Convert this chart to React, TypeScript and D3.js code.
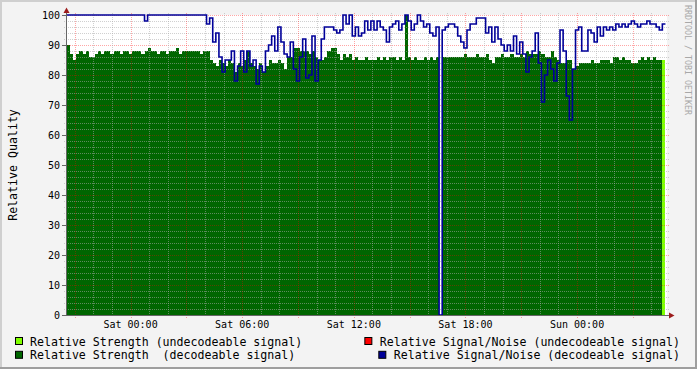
import { useEffect, useRef } from "react";
import * as d3 from "d3";

const width = 697;
const height = 369;

// 10 minute samples, first one at Fri 20:35
const start = new Date(2024, 0, 5, 20, 35);
const stepMinutes = 10;
const spanHours = 32.25;

const strength = [
  90, 87, 85, 87, 88, 87, 88, 86, 86, 87,
  88, 87, 88, 88, 87, 88, 88, 87, 88, 88,
  87, 88, 88, 88, 87, 88, 89, 88, 88, 87,
  88, 88, 87, 88, 88, 89, 87, 88, 88, 88,
  88, 88, 88, 87, 88, 88, 85, 84, 83, 85,
  84, 83, 85, 84, 81, 84, 83, 85, 88, 84,
  83, 82, 84, 81, 83, 85, 84, 84, 85, 84,
  82, 86, 86, 89, 89, 88, 88, 88, 87, 88,
  86, 85, 85, 86, 88, 89, 89, 87, 85, 87,
  86, 87, 85, 86, 85, 85, 86, 85, 85, 85,
  86, 85, 86, 85, 86, 86, 85, 86, 85, 100,
  86, 85, 86, 85, 85, 86, 85, 86, 85, 86,
  0, 86, 86, 86, 86, 86, 86, 86, 87, 86,
  86, 86, 87, 86, 86, 87, 85, 84, 86, 86,
  87, 86, 86, 87, 86, 86, 87, 86, 88, 87,
  87, 87, 88, 87, 86, 86, 88, 86, 85, 84,
  84, 85, 85, 82, 83, 84, 84, 84, 84, 85,
  84, 84, 85, 85, 85, 84, 86, 86, 85, 86,
  85, 85, 84, 84, 85, 86, 85, 86, 85, 86,
  85, 85, 85,
];

// samples where the signal could not be decoded
const undecodeable = [192];

const snr = [
  100, 100, 100, 100, 100, 100, 100, 100, 100, 100,
  100, 100, 100, 100, 100, 100, 100, 100, 100, 100,
  100, 100, 100, 100, 100, 98, 100, 100, 100, 100,
  100, 100, 100, 100, 100, 100, 100, 100, 100, 100,
  100, 100, 100, 100, 100, 97, 99, 91, 94, 86,
  81, 85, 85, 88, 78, 83, 88, 81, 88, 83,
  85, 77, 83, 81, 88, 90, 93, 88, 96, 91,
  87, 86, 91, 82, 78, 86, 92, 79, 80, 93,
  78, 85, 92, 96, 96, 96, 95, 94, 95, 100,
  97, 100, 93, 96, 93, 94, 98, 95, 98, 95,
  98, 96, 95, 91, 96, 97, 98, 95, 97, 100,
  98, 95, 97, 100, 98, 96, 97, 94, 93, 96,
  0, 95, 96, 97, 97, 96, 93, 91, 89, 95,
  97, 97, 99, 99, 99, 94, 96, 91, 96, 92,
  90, 88, 90, 88, 93, 87, 91, 87, 81, 86,
  88, 94, 84, 71, 80, 85, 82, 78, 84, 95,
  88, 73, 65, 82, 95, 96, 88, 88, 95, 94,
  91, 96, 93, 96, 95, 96, 95, 97, 96, 97,
  96, 97, 98, 97, 96, 97, 97, 98, 97, 97,
  96, 95, 97,
];

const legendLeft = [
  { label: "Relative Strength (undecodeable signal)", color: "#80ff00" },
  { label: "Relative Strength  (decodeable signal)", color: "#006600" },
];
const legendRight = [
  { label: "Relative Signal/Noise (undecodeable signal)", color: "#ff0000" },
  { label: "Relative Signal/Noise (decodeable signal)", color: "#000099" },
];

const font = "DejaVu Sans Mono";

const timeAt = (i) => new Date(start.getTime() + i * stepMinutes * 60000);

// turns samples into step points, null breaks the path
const steps = (values, keep) => {
  const pts = [];
  values.forEach((v, i) => {
    if (keep(i)) {
      pts.push({ t: timeAt(i), v });
      pts.push({ t: timeAt(i + 1), v });
    } else {
      pts.push({ t: timeAt(i), v: null });
    }
  });
  return pts;
};

const App = () => {
  const ref = useRef(null);

  useEffect(() => {
    const svg = d3.select(ref.current);
    svg.selectAll("*").remove();

    const x = d3
      .scaleTime()
      .domain([start, new Date(start.getTime() + spanHours * 3600000)])
      .range([67, 667]);
    const y = d3.scaleLinear().domain([0, 100]).range([315, 15]);

    // background + frame
    svg.append("rect").attr("width", width).attr("height", height).attr("fill", "#f3f3f3");
    svg.append("rect").attr("x", 0).attr("y", 0).attr("width", width).attr("height", 2).attr("fill", "#cfcfcf");
    svg.append("rect").attr("x", 0).attr("y", 0).attr("width", 2).attr("height", height).attr("fill", "#cfcfcf");
    svg.append("rect").attr("x", width - 2).attr("y", 0).attr("width", 2).attr("height", height).attr("fill", "#9e9e9e");
    svg.append("rect").attr("x", 0).attr("y", height - 2).attr("width", width).attr("height", 2).attr("fill", "#9e9e9e");

    svg
      .append("rect")
      .attr("x", x.range()[0])
      .attr("y", y(100))
      .attr("width", x.range()[1] - x.range()[0])
      .attr("height", y(0) - y(100))
      .attr("fill", "#ffffff");

    const area = d3
      .area()
      .defined((d) => d.v != null)
      .x((d) => x(d.t))
      .y0(y(0))
      .y1((d) => y(d.v));

    const isBad = (i) => undecodeable.includes(i);

    svg
      .append("path")
      .attr("d", area(steps(strength, (i) => !isBad(i))))
      .attr("fill", "#006600")
      .attr("shape-rendering", "crispEdges");
    svg
      .append("path")
      .attr("d", area(steps(strength, isBad)))
      .attr("fill", "#80ff00")
      .attr("shape-rendering", "crispEdges");

    // grid on top of the area
    const grid = svg.append("g").attr("stroke-dasharray", "1,1").attr("stroke-width", 1);
    d3.range(0, 101, 2).forEach((v) => {
      const major = v % 10 === 0;
      grid
        .append("line")
        .attr("x1", 64)
        .attr("x2", 669)
        .attr("y1", Math.round(y(v)) + 0.5)
        .attr("y2", Math.round(y(v)) + 0.5)
        .attr("stroke", major ? "rgba(255,0,0,0.35)" : "rgba(170,170,170,0.55)");
    });
    const hours = x.ticks(d3.timeHour.every(1));
    hours.forEach((t) => {
      const major = t.getHours() % 3 === 0;
      const px = Math.round(x(t)) + 0.5;
      grid
        .append("line")
        .attr("x1", px)
        .attr("x2", px)
        .attr("y1", 13)
        .attr("y2", major ? 318 : 317)
        .attr("stroke", major ? "rgba(255,0,0,0.35)" : "rgba(170,170,170,0.55)");
    });

    const line = d3
      .line()
      .defined((d) => d.v != null)
      .x((d) => x(d.t))
      .y((d) => y(d.v));
    svg
      .append("path")
      .attr("d", line(steps(snr, () => true)))
      .attr("fill", "none")
      .attr("stroke", "#000099")
      .attr("stroke-width", 1.6);

    // axes
    svg
      .append("line")
      .attr("x1", 66.5).attr("x2", 66.5)
      .attr("y1", 316).attr("y2", 11)
      .attr("stroke", "#666");
    svg
      .append("line")
      .attr("x1", 63).attr("x2", 670)
      .attr("y1", 315.5).attr("y2", 315.5)
      .attr("stroke", "#666");
    svg
      .append("path")
      .attr("d", "M66.5,7.5L63.5,13L69.5,13Z")
      .attr("fill", "#9c1c1c");
    svg
      .append("path")
      .attr("d", "M674.5,315.5L669,312.5L669,318.5Z")
      .attr("fill", "#9c1c1c");

    // y labels
    const yTicks = d3.range(0, 101, 10);
    yTicks.forEach((v) => {
      svg
        .append("line")
        .attr("x1", 62).attr("x2", 66)
        .attr("y1", Math.round(y(v)) + 0.5).attr("y2", Math.round(y(v)) + 0.5)
        .attr("stroke", "#666");
      svg
        .append("text")
        .attr("x", 60)
        .attr("y", y(v) + 3.8)
        .attr("text-anchor", "end")
        .attr("font-family", font)
        .attr("font-size", 10)
        .attr("fill", "#000")
        .text(v);
    });

    // x labels every 6 hours
    const fmt = d3.timeFormat("%a %H:%M");
    x.ticks(d3.timeHour.every(6)).forEach((t) => {
      svg
        .append("text")
        .attr("x", x(t))
        .attr("y", 328)
        .attr("text-anchor", "middle")
        .attr("font-family", font)
        .attr("font-size", 10)
        .attr("fill", "#000")
        .text(fmt(t));
    });

    svg
      .append("text")
      .attr("transform", "translate(16.5,165) rotate(-90)")
      .attr("text-anchor", "middle")
      .attr("font-family", font)
      .attr("font-size", 11.6)
      .attr("fill", "#000")
      .text("Relative Quality");

    svg
      .append("text")
      .attr("transform", "translate(685,5) rotate(90)")
      .attr("font-family", font)
      .attr("font-size", 8.3)
      .attr("fill", "#a8a8a8")
      .text("RRDTOOL / TOBI OETIKER");

    // legend
    const rows = [345.5, 359.3];
    legendLeft.forEach((d, i) => {
      svg
        .append("rect")
        .attr("x", 15.5).attr("y", rows[i] - 8)
        .attr("width", 7).attr("height", 7)
        .attr("fill", d.color).attr("stroke", "#000");
      svg
        .append("text")
        .attr("x", 30)
        .attr("y", rows[i])
        .attr("font-family", font)
        .attr("font-size", 11.6)
        .attr("fill", "#000")
        .attr("xml:space", "preserve")
        .style("white-space", "pre")
        .text(d.label);
    });
    legendRight.forEach((d, i) => {
      const tx = svg
        .append("text")
        .attr("x", 680)
        .attr("y", rows[i])
        .attr("text-anchor", "end")
        .attr("font-family", font)
        .attr("font-size", 11.6)
        .attr("fill", "#000")
        .text(d.label);
      const w = tx.node().getComputedTextLength();
      svg
        .append("rect")
        .attr("x", 680 - w - 15).attr("y", rows[i] - 8)
        .attr("width", 7).attr("height", 7)
        .attr("fill", d.color).attr("stroke", "#000");
    });
  }, []);

  return (
    <div style={{ position: "absolute", left: 0, top: 0 }}>
      <svg ref={ref} width={width} height={height} style={{ display: "block" }} />
    </div>
  );
};

export default App;
